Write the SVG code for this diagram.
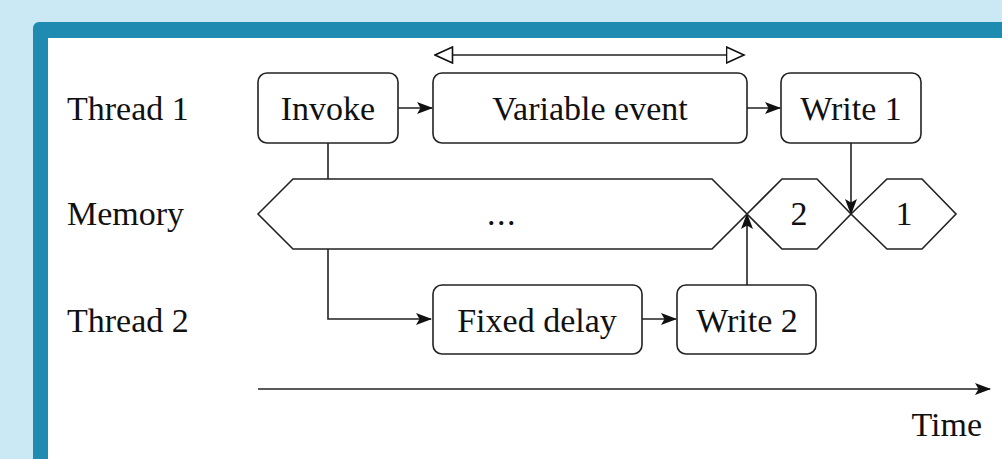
<svg xmlns="http://www.w3.org/2000/svg" width="1002" height="459" viewBox="0 0 1002 459">
<defs>
<style>
.box{fill:#fff;stroke:#222;stroke-width:1.6}
.hex{fill:#fff;stroke:#222;stroke-width:1.6;stroke-linejoin:miter}
.ln{fill:none;stroke:#222;stroke-width:1.6}
text{font-family:"Liberation Serif","Times New Roman",serif;font-size:34px;fill:#111}
.c{text-anchor:middle}
</style>
<marker id="ah" viewBox="0 0 16 14" refX="15" refY="7" markerWidth="16" markerHeight="14" markerUnits="userSpaceOnUse" orient="auto">
<path d="M0,1 L16,7 L0,13 L3.5,7 Z" fill="#111"/>
</marker>
<marker id="oh" viewBox="0 0 20 18" refX="18.5" refY="9" markerWidth="20" markerHeight="18" markerUnits="userSpaceOnUse" orient="auto-start-reverse">
<path d="M1,1 L18.5,9 L1,17 Z" fill="#fff" stroke="#111" stroke-width="1.6"/>
</marker>
</defs>
<rect x="0" y="0" width="1002" height="459" fill="#cbe9f4"/>
<rect x="33" y="22" width="1000" height="500" rx="6" fill="#208bb0"/>
<rect x="48" y="38" width="1000" height="500" fill="#fff"/>

<g id="labels">
<text x="67" y="120">Thread 1</text>
<text x="67" y="225">Memory</text>
<text x="67" y="332">Thread 2</text>
</g>

<g id="connectors">
<path class="ln" d="M328,143 V319 H431" marker-end="url(#ah)"/>
<path class="ln" d="M398,108 H432" marker-end="url(#ah)"/>
<path class="ln" d="M747,108 H780" marker-end="url(#ah)"/>
<path class="ln" d="M642,319 H676" marker-end="url(#ah)"/>
<path class="ln" d="M851,143 V214" marker-end="url(#ah)"/>
<path class="ln" d="M747,285 V214" marker-end="url(#ah)"/>
<path class="ln" d="M435,55 H744" marker-start="url(#oh)" marker-end="url(#oh)"/>
<path class="ln" d="M258,389 H990" marker-end="url(#ah)"/>
</g>

<g id="memory-rest">
<polygon class="hex" points="258,214 293,179 712,179 747,214 712,249 293,249"/>
<text class="c" x="502" y="225" letter-spacing="1.5">...</text>
</g>
<g id="memory-2">
<polygon class="hex" points="747,214 782,179 817,179 851,214 817,249 782,249"/>
<text class="c" x="799" y="225">2</text>
</g>
<g id="memory-1">
<polygon class="hex" points="851,214 887,179 922,179 956,214 922,249 887,249"/>
<text class="c" x="904" y="225">1</text>
</g>

<g id="invoke">
<rect class="box" x="258" y="73" width="140" height="70" rx="9"/>
<text class="c" x="328" y="120">Invoke</text>
</g>
<g id="variable-event">
<rect class="box" x="433" y="73" width="314" height="70" rx="9"/>
<text class="c" x="590" y="120">Variable event</text>
</g>
<g id="write-1">
<rect class="box" x="781" y="73" width="140" height="70" rx="9"/>
<text class="c" x="851" y="120">Write 1</text>
</g>
<g id="fixed-delay">
<rect class="box" x="433" y="285" width="209" height="69" rx="9"/>
<text class="c" x="537" y="332">Fixed delay</text>
</g>
<g id="write-2">
<rect class="box" x="677" y="285" width="139" height="69" rx="9"/>
<text class="c" x="747" y="332">Write 2</text>
</g>
<g id="time-label">
<text x="982" y="436" text-anchor="end">Time</text>
</g>
</svg>
